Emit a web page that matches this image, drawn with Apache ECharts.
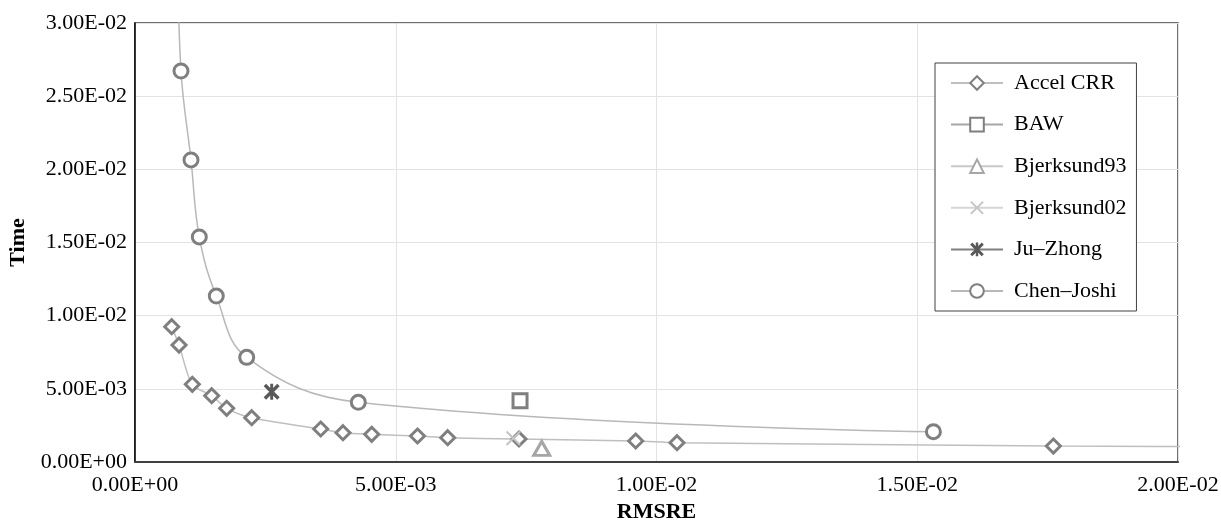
<!DOCTYPE html>
<html>
<head>
<meta charset="utf-8">
<script src="https://cdn.jsdelivr.net/npm/echarts@6/dist/echarts.min.js"></script>
<style>
  html, body { margin: 0; padding: 0; background: #fff; }
  #chart { width: 1221px; height: 523px; }
</style>
</head>
<body>
<div id="chart"></div>
<script>
"use strict";

// values (x = RMSRE, y = Time)
var accelX = [0.000704, 0.000844, 0.001099, 0.001471, 0.001758, 0.002238, 0.003561, 0.003988, 0.004539, 0.005417, 0.005996, 0.007363, 0.009601, 0.010393, 0.017610, 0.02240];
var accelY = [0.009246, 0.007995, 0.005310, 0.004530, 0.003670, 0.003027, 0.002255, 0.002002, 0.001893, 0.001777, 0.001661, 0.001572, 0.001435, 0.001319, 0.001093, 0.001030];

var chenX = [0.000825, 0.000882, 0.001074, 0.001233, 0.001559, 0.002142, 0.004282, 0.015310];
var chenY = [0.035000, 0.026720, 0.020640, 0.015380, 0.011340, 0.007150, 0.004080, 0.002070];

var bawX = [0.007383];
var bawY = [0.004189];
var bj93X = [0.007799];
var bj93Y = [0.000936];
var bj02X = [0.007254];
var bj02Y = [0.001620];
var juX = [0.002621];
var juY = [0.004800];

var xTicks = [0, 0.005, 0.01, 0.015, 0.02];
var yTicks = [0, 0.005, 0.01, 0.015, 0.02, 0.025, 0.03];

var font = 'Liberation Serif, Times New Roman, serif';

function fmt(v) {
    var s = Number(v).toExponential(2).split('e');
    var e = parseInt(s[1], 10);
    var sign = e < 0 ? '-' : '+';
    e = Math.abs(e);
    return s[0] + 'E' + sign + (e < 10 ? '0' + e : e);
}

function pts(xs, ys) {
    return xs.map(function (x, i) {
        var item = { value: [x, ys[i]] };
        if (x > xTicks[xTicks.length - 1] || ys[i] > yTicks[yTicks.length - 1]) item.symbol = 'none';
        return item;
    });
}

var crossPath = 'path://M0,2 L2,0 L20,18 L18,20 Z M18,0 L20,2 L2,20 L0,18 Z';
var starPath = 'path://M0,3 L3,0 L20,17 L17,20 Z M17,0 L20,3 L3,20 L0,17 Z M8.2,0 L11.8,0 L11.8,20 L8.2,20 Z';

function series(name, xs, ys, symbol, size, mark, line, filled, smooth) {
    return {
        name: name,
        type: 'line',
        data: pts(xs, ys),
        smooth: smooth || false,
        symbol: symbol,
        symbolSize: size,
        showAllSymbol: true,
        clip: true,
        lineStyle: { color: line, width: 1.5 },
        itemStyle: filled
            ? { color: mark, borderWidth: 0 }
            : { color: '#ffffff', borderColor: mark, borderWidth: 3 },
        emphasis: { disabled: true }
    };
}

var chart = echarts.init(document.getElementById('chart'));

chart.setOption({
    animation: false,
    backgroundColor: '#ffffff',
    grid: {
        left: 135,
        right: 43,
        top: 23,
        bottom: 61,
        outerBoundsMode: 'none',
        show: true,
        borderColor: '#404040',
        borderWidth: 1.5
    },
    legend: {
        orient: 'vertical',
        left: 935,
        top: 63,
        padding: [9, 10, 9, 15],
        itemWidth: 52,
        itemHeight: 17,
        itemGap: 19.6,
        borderColor: '#404040',
        borderWidth: 1,
        backgroundColor: '#ffffff',
        textStyle: {
            fontFamily: font,
            fontSize: 22,
            lineHeight: 22,
            color: '#000',
            padding: [0, 0, 0, 6]
        },
        data: ['Accel CRR', 'BAW', 'Bjerksund93', 'Bjerksund02', 'Ju\u2013Zhong', 'Chen\u2013Joshi']
    },
    xAxis: {
        type: 'value',
        min: 0,
        max: 0.02,
        interval: 0.005,
        name: 'RMSRE',
        nameLocation: 'middle',
        nameGap: 38,
        nameTextStyle: { fontFamily: font, fontSize: 22, fontWeight: 'bold', color: '#000' },
        axisLine: { lineStyle: { color: '#404040', width: 2 } },
        axisTick: { show: false },
        axisLabel: {
            margin: 12,
            fontFamily: font,
            fontSize: 22,
            color: '#000',
            formatter: fmt
        },
        splitLine: { lineStyle: { color: '#e3e3e3', width: 1 } }
    },
    yAxis: {
        type: 'value',
        min: 0,
        max: 0.03,
        interval: 0.005,
        name: 'Time',
        nameLocation: 'middle',
        nameGap: 103,
        nameTextStyle: { fontFamily: font, fontSize: 22, fontWeight: 'bold', color: '#000' },
        axisLine: { show: true, lineStyle: { color: '#000', width: 1.5 } },
        axisTick: { show: false },
        axisLabel: {
            margin: 8,
            fontFamily: font,
            fontSize: 22,
            color: '#000',
            formatter: fmt
        },
        splitLine: { lineStyle: { color: '#e3e3e3', width: 1 } }
    },
    series: [
        series('Accel CRR', accelX, accelY, 'diamond', 14, '#7f7f7f', '#bfbfbf', false, 0.3),
        series('BAW', bawX, bawY, 'rect', 14, '#7f7f7f', '#a6a6a6', false),
        series('Bjerksund93', bj93X, bj93Y, 'triangle', [16, 14], '#a6a6a6', '#c8c8c8', false),
        series('Bjerksund02', bj02X, bj02Y, crossPath, 15, '#c4c4c4', '#d6d6d6', true),
        series('Ju\u2013Zhong', juX, juY, starPath, 16, '#595959', '#808080', true),
        series('Chen\u2013Joshi', chenX, chenY, 'circle', 14, '#7f7f7f', '#b8b8b8', false, 0.4)
    ]
});
</script>
</body>
</html>
